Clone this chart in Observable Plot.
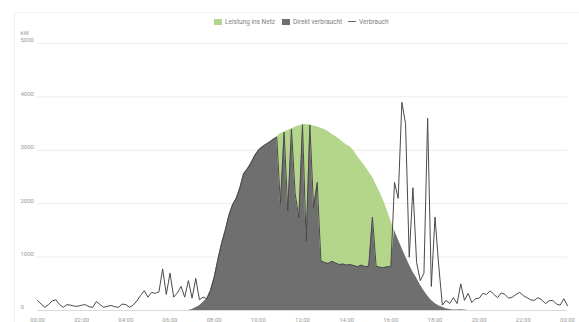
<!DOCTYPE html>
<html><head><meta charset="utf-8">
<script src="https://cdn.jsdelivr.net/npm/d3@7"></script>
<script src="https://cdn.jsdelivr.net/npm/@observablehq/plot@0.6"></script>
<style>
body{margin:0;background:#fff;font-family:Roboto,sans-serif;}
#wrap{position:relative;width:579px;height:322px;overflow:hidden;background:#fff}
#card{position:absolute;left:14px;top:12px;width:580px;height:320px;border:1px solid #f2f2f2;}
#legend{position:absolute;left:0;top:0;width:579px;height:26px;}
.item{position:absolute;top:18px;font-size:6.5px;color:#808080;line-height:8px;white-space:nowrap}
.sw{display:inline-block;width:8px;height:6px;vertical-align:-1px;margin-right:3px}
.ln{display:inline-block;width:8px;height:1px;background:#666;vertical-align:2px;margin-right:3px}
#chart{position:absolute;left:0;top:26px}
</style></head>
<body>
<div id="wrap">
<div id="card"></div>
<div id="legend">
 <div class="item" style="left:214px"><span class="sw" style="background:#b3d68a"></span>Leistung ins Netz</div>
 <div class="item" style="left:282px"><span class="sw" style="background:#6f6f6f"></span>Direkt verbraucht</div>
 <div class="item" style="left:348px"><span class="ln"></span>Verbrauch</div>
</div>
<div id="chart"></div>
</div>
<script>
// 10-minute readings, index i -> hour i/6 (00:00 .. 24:00)
const production = [
 0,0,0,0,0,0, 0,0,0,0,0,0, 0,0,0,0,0,0, 0,0,0,0,0,0,
 0,0,0,0,0,0, 0,0,0,0,0,0, 0,0,0,0,0,0,
 20,50,90,150,220,374,
 620,950,1250,1500,1780,1980,
 2100,2300,2560,2650,2760,2900,
 3000,3060,3110,3150,3200,3250,
 3310,3340,3370,3400,3430,3460,
 3480,3485,3475,3455,3440,3415,
 3390,3350,3300,3260,3210,3150,
 3100,3060,2980,2880,2790,2700,
 2600,2500,2360,2220,2060,1880,
 1680,1500,1330,1170,1010,860,
 720,610,480,370,270,190,
 130,90,60,35,20,10,
 10,15,10,0,0,0,
 0,0,0,0,0,0, 0,0,0,0,0,0, 0,0,0,0,0,0, 0,0,0,0,0,0,
 0
];
const consumption = [
 190,120,60,110,180,200,
 110,60,110,100,80,80,
 100,110,70,60,170,110,
 60,80,95,70,60,120,
 110,60,100,180,280,370,
 250,340,320,350,780,300,
 700,250,330,450,250,560,
 230,600,200,250,220,374,
 620,950,1250,1500,1780,1980,
 2100,2300,2560,2650,2760,2900,
 3000,3060,3110,3150,3200,3250,
 2000,3340,1870,3400,2190,1740,
 3480,1300,3475,1930,2400,930,
 900,880,920,890,860,870,
 850,860,840,820,850,820,
 830,1750,830,810,800,820,
 820,2400,2100,3900,3500,1000,
 2300,900,560,700,3600,450,
 1750,850,100,190,130,240,
 130,500,190,320,150,220,
 230,320,300,370,300,240,
 330,300,230,250,300,340,
 280,240,200,190,240,200,
 130,180,190,120,100,220,
 90
];
const tickHours = [0,2,4,6,8,10,12,14,16,18,20,22,24];
const tickLabels = ["00:00","02:00","04:00","06:00","08:00","10:00","12:00","14:00","16:00","18:00","20:00","22:00","00:00"];
const yTicks = [0,1000,2000,3000,4000,5000];
const unitLabel = "kW";

const data = production.map((p, i) => ({
  h: i / 6,
  prod: p,
  cons: consumption[i],
  direct: Math.min(p, consumption[i])
}));

const chart = Plot.plot({
  width: 579, height: 296,
  marginLeft: 37, marginRight: 12, marginTop: 17, marginBottom: 12,
  style: {fontFamily: "Roboto, sans-serif", fontSize: "6px", color: "#9a9a9a", background: "transparent"},
  x: {domain: [0, 24]},
  y: {domain: [0, 5000]},
  marks: [
    Plot.gridY({ticks: yTicks, stroke: "#ececec", strokeOpacity: 1}),
    Plot.areaY(data, {x: "h", y1: "direct", y2: "prod", fill: "#b3d68a"}),
    Plot.areaY(data, {x: "h", y1: 0, y2: "direct", fill: "#6f6f6f"}),
    Plot.ruleY([0], {stroke: "#dadada"}),
    Plot.lineY(data, {x: "h", y: "cons", stroke: "#4a4a4a", strokeWidth: 1}),
    Plot.axisY({ticks: yTicks, tickSize: 0, tickPadding: 0, textAnchor: "start", dx: -17, dy: -3, label: null,
      tickFormat: d => String(d)}),
    Plot.axisX({ticks: tickHours, tickSize: 0, tickPadding: 7, label: null,
      tickFormat: d => tickLabels[tickHours.indexOf(d)]}),
    Plot.text([unitLabel], {frameAnchor: "top-left", dx: -17, dy: -13, textAnchor: "start", fill: "#9a9a9a"})
  ]
});
document.getElementById("chart").appendChild(chart);
</script>
</body></html>
